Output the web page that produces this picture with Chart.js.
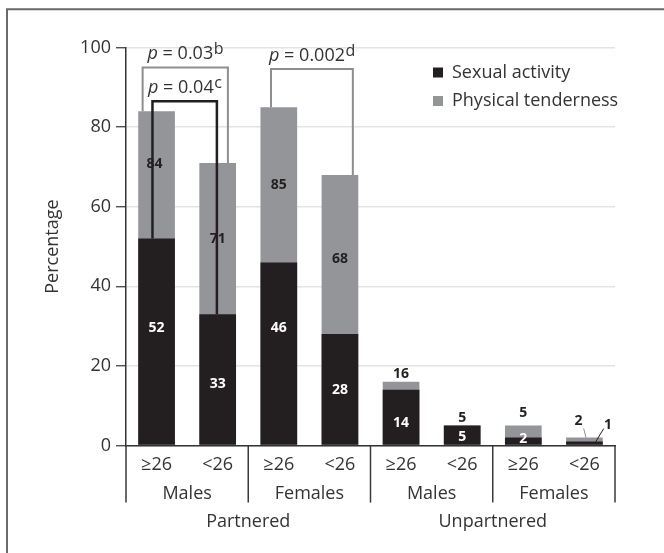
<!DOCTYPE html>
<html>
<head>
<meta charset="utf-8">
<script src="https://cdn.jsdelivr.net/npm/chart.js@4/dist/chart.umd.min.js"></script>
<style>
  html, body { margin: 0; padding: 0; background: #fff; }
  canvas { display: block; }
</style>
</head>
<body>
<canvas id="chart" width="664" height="553"></canvas>
<script>
// ---- data ----
const ageGroups = ['\u226526', '<26', '\u226526', '<26', '\u226526', '<26', '\u226526', '<26'];
const sexGroups = ['Males', 'Females', 'Males', 'Females'];
const partnerGroups = ['Partnered', 'Unpartnered'];
const sexualActivity = [52, 33, 46, 28, 14, 5, 2, 1];
const physicalTenderness = [84, 71, 85, 68, 16, 5, 5, 2];
const yTickValues = [0, 20, 40, 60, 80, 100];
// significance tests: compared bars (category indices), series compared, p value, footnote
const pTests = [
  { from: 0, to: 1, series: 'tender', p: '0.03', note: 'b' },
  { from: 0, to: 1, series: 'sexual', p: '0.04', note: 'c' },
  { from: 2, to: 3, series: 'tender', p: '0.002', note: 'd' }
];

// ---- styling ----
const FONT = '"Open Sans", "Liberation Sans", sans-serif';
const FS = 18;
const TEXT = '#333333';
const BLACK = '#231f20';
const GREY = '#949598';

// bracket drawing geometry (bracket top in axis units, leg offsets in category widths)
const bracketStyle = [
  { top: 95, dxFrom: -0.228, dxTo: 0.167, color: '#8e8e8e', width: 2 },
  { top: 86.5, dxFrom: -0.067, dxTo: -0.013, color: BLACK, width: 2.5 },
  { top: 94.6, dxFrom: -0.128, dxTo: 0.211, color: '#8e8e8e', width: 2 }
];

// value-label nudges (pixels) and leader-line callouts for the tiny bars
const labelNudge = {
  tender: { 0: { dx: -2, dy: -11 }, 3: { dy: 5 }, 4: { dy: 2 }, 5: { dy: 2 }, 6: { dy: -3 },
            7: { callout: { tx: -6, ty: -16.5, x1: -0.7, y1: -9, x2: 1.5, y2: 0 } } },
  sexual: { 0: { dy: -14 }, 1: { dy: 4 }, 2: { dy: -26 }, 4: { dy: 5 }, 5: { dy: 1 }, 6: { dy: -3 },
            7: { callout: { tx: 23.5, ty: -16.5, x1: 19.3, y1: -13, x2: 10.7, y2: 1.2 } } }
};

// outer frame (top and left rules)
const framePlugin = {
  id: 'frame',
  beforeDraw(chart) {
    const ctx = chart.ctx;
    ctx.save();
    ctx.fillStyle = '#fff';
    ctx.fillRect(0, 0, chart.width, chart.height);
    ctx.strokeStyle = '#6a6a6a';
    ctx.lineWidth = 2;
    ctx.beginPath();
    ctx.moveTo(7, chart.height);
    ctx.lineTo(7, 9.3);
    ctx.lineTo(chart.width, 9.3);
    ctx.stroke();
    ctx.restore();
  }
};

// hierarchical category axis: separators and group names under the age ticks
const groupAxisPlugin = {
  id: 'groupAxis',
  afterDraw(chart) {
    const ctx = chart.ctx;
    const xs = chart.scales.x;
    const area = chart.chartArea;
    const px = i => xs.getPixelForValue(i);
    const edges = [area.left];
    for (let g = 1; g < sexGroups.length; g++) edges.push((px(2 * g - 1) + px(2 * g)) / 2);
    edges.push(area.right);
    ctx.save();
    ctx.strokeStyle = '#3a3a3a';
    ctx.lineWidth = 1.5;
    edges.forEach(x => {
      ctx.beginPath();
      ctx.moveTo(x, area.bottom);
      ctx.lineTo(x, 502.6);
      ctx.stroke();
    });
    ctx.fillStyle = TEXT;
    ctx.font = FS + 'px ' + FONT;
    ctx.textAlign = 'center';
    ctx.textBaseline = 'middle';
    sexGroups.forEach((name, g) => ctx.fillText(name, (edges[g] + edges[g + 1]) / 2, 494));
    partnerGroups.forEach((name, k) => ctx.fillText(name, (edges[2 * k] + edges[2 * k + 2]) / 2, 522));
    ctx.restore();
  }
};

// value labels, significance brackets and legend
const annotatePlugin = {
  id: 'annotate',
  afterDatasetsDraw(chart) {
    const ctx = chart.ctx;
    const xs = chart.scales.x, ys = chart.scales.y;
    const bw = xs.getPixelForValue(1) - xs.getPixelForValue(0);
    ctx.save();
    ctx.font = 'bold 14px ' + FONT;
    ctx.textAlign = 'center';
    ctx.textBaseline = 'middle';

    const series = { sexual: sexualActivity, tender: physicalTenderness };
    ['tender', 'sexual'].forEach(key => {
      series[key].forEach((v, i) => {
        const cx = xs.getPixelForValue(i);
        const n = (labelNudge[key] || {})[i] || {};
        if (n.callout) {
          const c = n.callout, top = ys.getPixelForValue(v);
          ctx.fillStyle = BLACK;
          ctx.fillText(String(v), cx + c.tx, top + c.ty);
          ctx.strokeStyle = key === 'tender' ? '#8e8e8e' : BLACK;
          ctx.lineWidth = 1;
          ctx.beginPath();
          ctx.moveTo(cx + c.x1, top + c.y1);
          ctx.lineTo(cx + c.x2, top + c.y2);
          ctx.stroke();
          return;
        }
        let y, color;
        if (key === 'sexual') {
          y = (ys.getPixelForValue(0) + ys.getPixelForValue(v)) / 2;
          color = '#ffffff';
        } else if (i < 4) {
          y = (ys.getPixelForValue(sexualActivity[i]) + ys.getPixelForValue(v)) / 2;
          color = BLACK;
        } else {
          y = ys.getPixelForValue(v) - 10;
          color = BLACK;
        }
        ctx.fillStyle = color;
        ctx.fillText(String(v), cx + (n.dx || 0), y + (n.dy || 0));
      });
    });

    // brackets
    pTests.forEach((t, k) => {
      const s = bracketStyle[k];
      const vals = series[t.series];
      const x1 = xs.getPixelForValue(t.from) + s.dxFrom * bw;
      const x2 = xs.getPixelForValue(t.to) + s.dxTo * bw;
      const yTop = ys.getPixelForValue(s.top);
      ctx.strokeStyle = s.color;
      ctx.lineWidth = s.width;
      ctx.beginPath();
      ctx.moveTo(x1, ys.getPixelForValue(vals[t.from]));
      ctx.lineTo(x1, yTop);
      ctx.lineTo(x2, yTop);
      ctx.lineTo(x2, ys.getPixelForValue(vals[t.to]));
      ctx.stroke();

      // "p = value" with superscript footnote letter
      ctx.textAlign = 'left';
      ctx.textBaseline = 'alphabetic';
      ctx.fillStyle = TEXT;
      const main = ' = ' + t.p;
      ctx.font = 'italic ' + FS + 'px ' + FONT; const wp = ctx.measureText('p').width;
      ctx.font = FS + 'px ' + FONT; const wm = ctx.measureText(main).width;
      ctx.font = '16px ' + FONT; const wn = ctx.measureText(t.note).width;
      let x = (x1 + x2) / 2 - (wp + wm + wn) / 2;
      const base = yTop - 8;
      ctx.font = 'italic ' + FS + 'px ' + FONT; ctx.fillText('p', x, base); x += wp;
      ctx.font = FS + 'px ' + FONT; ctx.fillText(main, x, base); x += wm;
      ctx.font = '16px ' + FONT; ctx.fillText(t.note, x + 0.5, base - 5);
    });

    // legend
    const items = [
      { label: chart.data.datasets[0].label, color: chart.data.datasets[0].backgroundColor, y: 72.5 },
      { label: chart.data.datasets[1].label, color: chart.data.datasets[1].backgroundColor, y: 101 }
    ];
    ctx.font = FS + 'px ' + FONT;
    ctx.textAlign = 'left';
    ctx.textBaseline = 'middle';
    items.forEach(it => {
      ctx.fillStyle = it.color;
      ctx.fillRect(433, it.y - 5, 10, 10);
      ctx.fillStyle = TEXT;
      ctx.fillText(it.label, 452, it.y);
    });
    ctx.restore();
  }
};

new Chart(document.getElementById('chart'), {
  type: 'bar',
  data: {
    labels: ageGroups,
    datasets: [
      { label: 'Sexual activity', data: sexualActivity, backgroundColor: BLACK, grouped: false, order: 0,
        categoryPercentage: 0.75, barPercentage: 0.8 },
      { label: 'Physical tenderness', data: physicalTenderness, backgroundColor: GREY, grouped: false, order: 1,
        categoryPercentage: 0.75, barPercentage: 0.8 }
    ]
  },
  options: {
    responsive: false,
    animation: false,
    events: [],
    layout: { padding: { left: 42, right: 49, top: 47.6, bottom: 0 } },
    plugins: { legend: { display: false }, tooltip: { enabled: false } },
    scales: {
      x: {
        grid: { display: false, drawTicks: false },
        border: { display: true, color: '#333', width: 1.5 },
        ticks: { color: TEXT, font: { family: FONT, size: FS }, padding: 9, autoSkip: false, maxRotation: 0 },
        afterFit(scale) { scale.height = 107.5; }
      },
      y: {
        min: 0, max: 100,
        afterBuildTicks(scale) { scale.ticks = yTickValues.map(v => ({ value: v })); },
        grid: { color: '#e3e3e3', lineWidth: 1.5, drawTicks: true, tickLength: 10, tickColor: '#333', tickWidth: 1.2 },
        border: { display: true, color: '#333', width: 1.5 },
        ticks: { color: TEXT, font: { family: FONT, size: FS }, padding: 5 },
        title: { display: true, text: 'Percentage', color: TEXT, font: { family: FONT, size: FS }, padding: 0 },
        afterFit(scale) { scale.width = 84; }
      }
    }
  },
  plugins: [framePlugin, groupAxisPlugin, annotatePlugin]
});
</script>
</body>
</html>
